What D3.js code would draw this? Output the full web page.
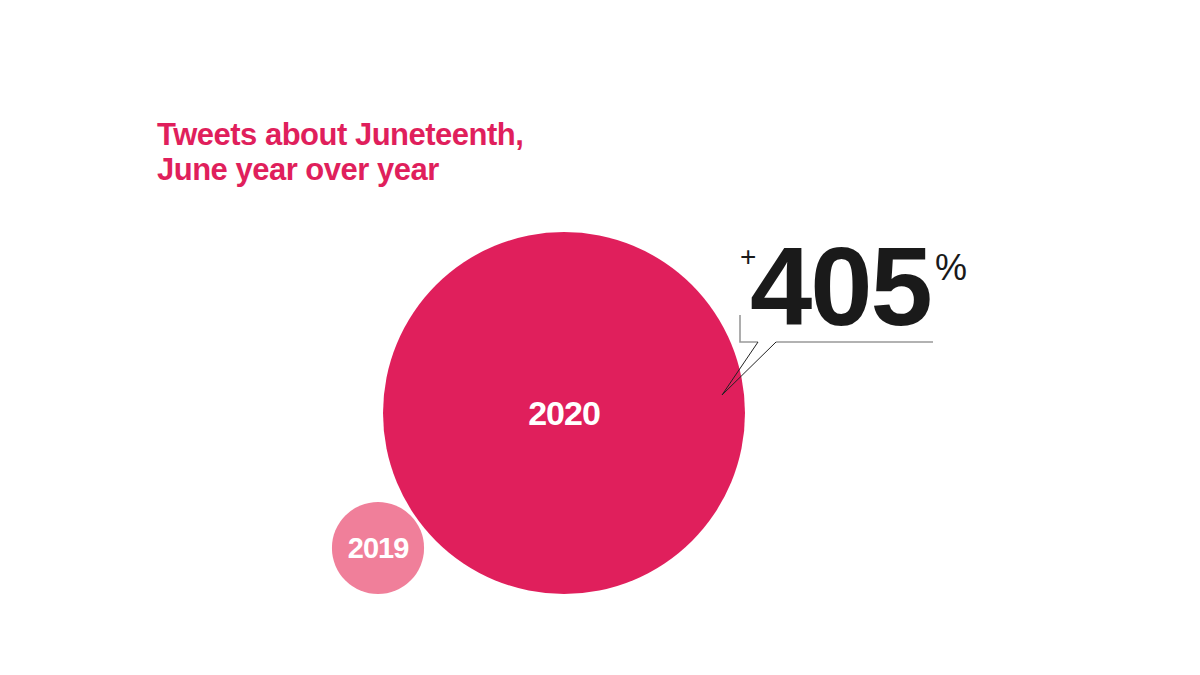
<!DOCTYPE html>
<html><head><meta charset="utf-8">
<script src="https://cdn.jsdelivr.net/npm/d3@7"></script>
<style>body{margin:0;background:#fff}</style></head>
<body><svg id="c" width="1200" height="675"></svg>
<script>
const years = ["2019", "2020"];
const values = [100, 505];
const colors = ["#f07f9a", "#e01f5c"];
const titleLines = ["Tweets about Juneteenth,", "June year over year"];
const changeLabel = "405";

const svg = d3.select("#c");
const font = "'Liberation Sans', Arial, sans-serif";
const r = d3.scalePow().exponent(0.845).domain([0, 505]).range([0, 181]);
const centers = [[378, 548], [564, 413]];
const fs = [29, 34];

svg.selectAll("text.title").data(titleLines).join("text")
  .attr("x", 157).attr("y", (d, i) => 145 + i * 35)
  .attr("font-family", font).attr("font-weight", "bold").attr("font-size", 31)
  .attr("fill", "#e01f5c").attr("letter-spacing", -0.5).text(d => d);

const g = svg.selectAll("g.b").data(values).join("g")
  .attr("transform", (d, i) => `translate(${centers[i][0]},${centers[i][1]})`);
g.append("circle").attr("r", d => r(d)).attr("fill", (d, i) => colors[i]);
g.append("text").attr("text-anchor", "middle").attr("dy", "0.35em")
  .attr("font-family", font).attr("font-weight", "bold").attr("letter-spacing", -1)
  .attr("font-size", (d, i) => fs[i]).attr("fill", "#fff").text((d, i) => years[i]);

svg.append("path").attr("d", "M740,315 V342 H758 M776,342 H933")
  .attr("fill", "none").attr("stroke", "#999").attr("stroke-width", 1.6);
svg.append("path").attr("d", "M758,342 L722,395 L776,342").attr("fill", "none").attr("stroke", "#222").attr("stroke-width", 1);

svg.append("text").attr("x", 750).attr("y", 325).attr("font-family", font)
  .attr("font-weight", "bold").attr("font-size", 112).attr("letter-spacing", -2)
  .attr("fill", "#1a1a1a").text(changeLabel);
svg.append("text").attr("x", 740).attr("y", 266).attr("font-family", font)
  .attr("font-size", 28).attr("fill", "#1a1a1a").text("+");
svg.append("text").attr("x", 935).attr("y", 280).attr("font-family", font)
  .attr("font-size", 36).attr("fill", "#1a1a1a").text("%");
</script></body></html>
